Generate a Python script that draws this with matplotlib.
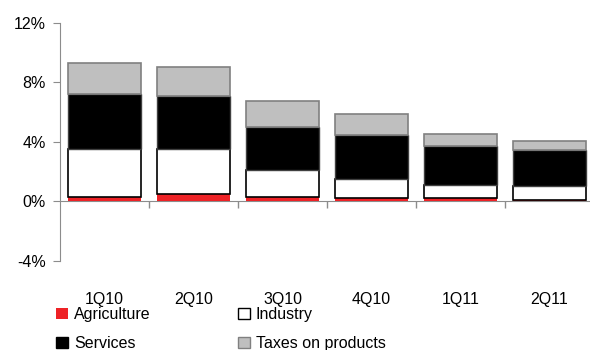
import matplotlib.pyplot as plt
import numpy as np
from matplotlib.patches import Patch
from matplotlib.ticker import FuncFormatter

plt.rcParams['font.family'] = ['Liberation Sans', 'DejaVu Sans']

# --- DATA: contributions to GDP growth, percentage points ---
quarters = ["1Q10", "2Q10", "3Q10", "4Q10", "1Q11", "2Q11"]
agriculture = [0.27, 0.50, 0.27, 0.25, 0.25, 0.12]
industry = [3.22, 3.00, 1.86, 1.23, 0.82, 0.93]
services = [3.69, 3.60, 2.86, 3.00, 2.64, 2.37]
taxes = [2.10, 1.90, 1.77, 1.41, 0.81, 0.67]

RED = "#ee2226"
GREY = "#bfbfbf"
GREY_EDGE = "#808080"
AXIS_GREY = "#8c8c8c"

fig = plt.figure(figsize=(5.9, 3.5), dpi=100)
ax = fig.add_axes([60 / 590, 89 / 350, 534 / 590, 238.3 / 350])

x = np.arange(len(quarters))
width = 0.82

# stack the four components
bottom = np.zeros(len(quarters))
ax.bar(x, agriculture, width, bottom=bottom, color=RED, edgecolor="none", zorder=2)
bottom += agriculture
ax.bar(x, industry, width, bottom=bottom, color="white", edgecolor="black",
       linewidth=1.2, zorder=2)
bottom += industry
ax.bar(x, services, width, bottom=bottom, color="black", edgecolor="#404040",
       linewidth=1.0, zorder=2)
bottom += services
ax.bar(x, taxes, width, bottom=bottom, color=GREY, edgecolor=GREY_EDGE,
       linewidth=1.2, zorder=2)

ax.set_xlim(-0.5, len(quarters) - 0.5)
ax.set_ylim(-4, 12)
ax.set_yticks([-4, 0, 4, 8, 12])
ax.yaxis.set_major_formatter(FuncFormatter(lambda v, _: f"{v:.0f}%"))

for side in ("top", "right", "bottom"):
    ax.spines[side].set_visible(False)
ax.spines["left"].set_color(AXIS_GREY)
ax.tick_params(axis="y", colors=AXIS_GREY, length=5, pad=5,
               labelsize=11.5, labelcolor="black")

# category labels sit below the plot, no tick marks there
ax.set_xticks(x)
ax.set_xticklabels(quarters)
ax.tick_params(axis="x", length=0, pad=22, labelsize=11.5)

# zero line with separator ticks between categories
zero_axis = ax.secondary_xaxis(4 / 16)
zero_axis.set_xticks(np.arange(len(quarters)) + 0.5)
zero_axis.set_xticklabels([])
zero_axis.spines["bottom"].set_color(AXIS_GREY)
zero_axis.tick_params(axis="x", colors=AXIS_GREY, length=5, width=1)

handles = [
    Patch(facecolor=RED, edgecolor="none", label="Agriculture"),
    Patch(facecolor="black", edgecolor="black", label="Services"),
    Patch(facecolor="white", edgecolor="black", label="Industry"),
    Patch(facecolor=GREY, edgecolor=GREY_EDGE, label="Taxes on products"),
]
fig.legend(handles=handles, ncol=2, loc="upper left",
           bbox_to_anchor=(42 / 590, 1 - 293 / 350), frameon=False,
           fontsize=11.5, handlelength=0.7, handleheight=0.7,
           handletextpad=0.4, columnspacing=5.5, labelspacing=0.85)

fig.savefig("out.png", dpi=100)
